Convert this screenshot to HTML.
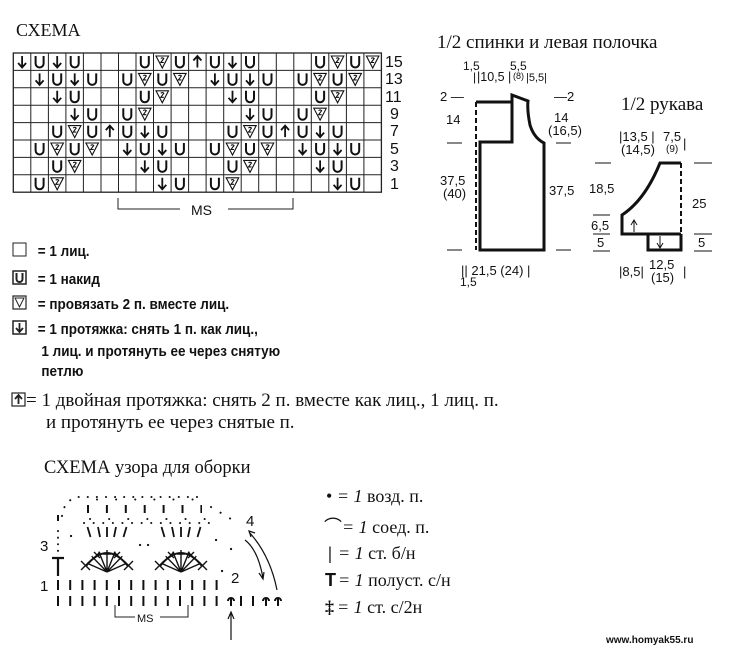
<!DOCTYPE html>
<html><head><meta charset="utf-8">
<style>
html,body{margin:0;padding:0;background:#fff;}
svg{display:block;}
.s{font-family:"Liberation Serif",serif;fill:#111;}
.a{font-family:"Liberation Sans",sans-serif;fill:#111;}
.u{fill:none;stroke:#111;stroke-width:2;}
.v{fill:none;stroke:#111;stroke-width:1.1;}
.d{fill:none;stroke:#111;stroke-width:1.8;}
</style></head>
<body>
<svg width="731" height="650" viewBox="0 0 731 650" xmlns="http://www.w3.org/2000/svg">
<rect width="731" height="650" fill="#fff"/>
<text x="16" y="36" class="s" font-size="18">СХЕМА</text>

<!-- grid -->
<g stroke="#222" stroke-width="1" fill="none">
<rect x="13.3" y="53" width="368.1" height="139.2" stroke-width="1.3"/>
<path d="M30.8,53V192.2M48.4,53V192.2M65.9,53V192.2M83.4,53V192.2M101,53V192.2M118.5,53V192.2M136,53V192.2M153.5,53V192.2M171.1,53V192.2M188.6,53V192.2M206.1,53V192.2M223.7,53V192.2M241.2,53V192.2M258.7,53V192.2M276.3,53V192.2M293.8,53V192.2M311.3,53V192.2M328.8,53V192.2M346.4,53V192.2M363.9,53V192.2"/>
<path d="M13.3,70.4H381.4M13.3,87.8H381.4M13.3,105.2H381.4M13.3,122.6H381.4M13.3,140H381.4M13.3,157.4H381.4M13.3,174.8H381.4"/>
</g>
<g transform="translate(0,53)">
<path class="d" transform="translate(13.3,0)" d="M8.8,3V14.5M4.8,10l4,4.5l4-4.5"/>
<path class="u" transform="translate(30.8,0)" d="M4.8,3v7.5a4,4 0 0 0 8,0v-7.5"/>
<path class="d" transform="translate(48.4,0)" d="M8.8,3V14.5M4.8,10l4,4.5l4-4.5"/>
<path class="u" transform="translate(65.9,0)" d="M4.8,3v7.5a4,4 0 0 0 8,0v-7.5"/>
<path class="u" transform="translate(136,0)" d="M4.8,3v7.5a4,4 0 0 0 8,0v-7.5"/>
<path class="v" transform="translate(153.5,0)" d="M2.5,3H15L8.8,15ZM7.3,5.5q1.5-1.5 3,0l-3,4h3"/>
<path class="u" transform="translate(171.1,0)" d="M4.8,3v7.5a4,4 0 0 0 8,0v-7.5"/>
<path class="d" transform="translate(188.6,0)" d="M8.8,14.5V3M4.8,7.5l4-4.5l4,4.5"/>
<path class="u" transform="translate(206.1,0)" d="M4.8,3v7.5a4,4 0 0 0 8,0v-7.5"/>
<path class="d" transform="translate(223.7,0)" d="M8.8,3V14.5M4.8,10l4,4.5l4-4.5"/>
<path class="u" transform="translate(241.2,0)" d="M4.8,3v7.5a4,4 0 0 0 8,0v-7.5"/>
<path class="u" transform="translate(311.3,0)" d="M4.8,3v7.5a4,4 0 0 0 8,0v-7.5"/>
<path class="v" transform="translate(328.8,0)" d="M2.5,3H15L8.8,15ZM7.3,5.5q1.5-1.5 3,0l-3,4h3"/>
<path class="u" transform="translate(346.4,0)" d="M4.8,3v7.5a4,4 0 0 0 8,0v-7.5"/>
<path class="v" transform="translate(363.9,0)" d="M2.5,3H15L8.8,15ZM7.3,5.5q1.5-1.5 3,0l-3,4h3"/>
</g>
<g transform="translate(0,70.4)">
<path class="d" transform="translate(30.8,0)" d="M8.8,3V14.5M4.8,10l4,4.5l4-4.5"/>
<path class="u" transform="translate(48.4,0)" d="M4.8,3v7.5a4,4 0 0 0 8,0v-7.5"/>
<path class="d" transform="translate(65.9,0)" d="M8.8,3V14.5M4.8,10l4,4.5l4-4.5"/>
<path class="u" transform="translate(83.4,0)" d="M4.8,3v7.5a4,4 0 0 0 8,0v-7.5"/>
<path class="u" transform="translate(118.5,0)" d="M4.8,3v7.5a4,4 0 0 0 8,0v-7.5"/>
<path class="v" transform="translate(136,0)" d="M2.5,3H15L8.8,15ZM7.3,5.5q1.5-1.5 3,0l-3,4h3"/>
<path class="u" transform="translate(153.5,0)" d="M4.8,3v7.5a4,4 0 0 0 8,0v-7.5"/>
<path class="v" transform="translate(171.1,0)" d="M2.5,3H15L8.8,15ZM7.3,5.5q1.5-1.5 3,0l-3,4h3"/>
<path class="d" transform="translate(206.1,0)" d="M8.8,3V14.5M4.8,10l4,4.5l4-4.5"/>
<path class="u" transform="translate(223.7,0)" d="M4.8,3v7.5a4,4 0 0 0 8,0v-7.5"/>
<path class="d" transform="translate(241.2,0)" d="M8.8,3V14.5M4.8,10l4,4.5l4-4.5"/>
<path class="u" transform="translate(258.7,0)" d="M4.8,3v7.5a4,4 0 0 0 8,0v-7.5"/>
<path class="u" transform="translate(293.8,0)" d="M4.8,3v7.5a4,4 0 0 0 8,0v-7.5"/>
<path class="v" transform="translate(311.3,0)" d="M2.5,3H15L8.8,15ZM7.3,5.5q1.5-1.5 3,0l-3,4h3"/>
<path class="u" transform="translate(328.8,0)" d="M4.8,3v7.5a4,4 0 0 0 8,0v-7.5"/>
<path class="v" transform="translate(346.4,0)" d="M2.5,3H15L8.8,15ZM7.3,5.5q1.5-1.5 3,0l-3,4h3"/>
</g>
<g transform="translate(0,87.8)">
<path class="d" transform="translate(48.4,0)" d="M8.8,3V14.5M4.8,10l4,4.5l4-4.5"/>
<path class="u" transform="translate(65.9,0)" d="M4.8,3v7.5a4,4 0 0 0 8,0v-7.5"/>
<path class="u" transform="translate(136,0)" d="M4.8,3v7.5a4,4 0 0 0 8,0v-7.5"/>
<path class="v" transform="translate(153.5,0)" d="M2.5,3H15L8.8,15ZM7.3,5.5q1.5-1.5 3,0l-3,4h3"/>
<path class="d" transform="translate(223.7,0)" d="M8.8,3V14.5M4.8,10l4,4.5l4-4.5"/>
<path class="u" transform="translate(241.2,0)" d="M4.8,3v7.5a4,4 0 0 0 8,0v-7.5"/>
<path class="u" transform="translate(311.3,0)" d="M4.8,3v7.5a4,4 0 0 0 8,0v-7.5"/>
<path class="v" transform="translate(328.8,0)" d="M2.5,3H15L8.8,15ZM7.3,5.5q1.5-1.5 3,0l-3,4h3"/>
</g>
<g transform="translate(0,105.2)">
<path class="d" transform="translate(65.9,0)" d="M8.8,3V14.5M4.8,10l4,4.5l4-4.5"/>
<path class="u" transform="translate(83.4,0)" d="M4.8,3v7.5a4,4 0 0 0 8,0v-7.5"/>
<path class="u" transform="translate(118.5,0)" d="M4.8,3v7.5a4,4 0 0 0 8,0v-7.5"/>
<path class="v" transform="translate(136,0)" d="M2.5,3H15L8.8,15ZM7.3,5.5q1.5-1.5 3,0l-3,4h3"/>
<path class="d" transform="translate(241.2,0)" d="M8.8,3V14.5M4.8,10l4,4.5l4-4.5"/>
<path class="u" transform="translate(258.7,0)" d="M4.8,3v7.5a4,4 0 0 0 8,0v-7.5"/>
<path class="u" transform="translate(293.8,0)" d="M4.8,3v7.5a4,4 0 0 0 8,0v-7.5"/>
<path class="v" transform="translate(311.3,0)" d="M2.5,3H15L8.8,15ZM7.3,5.5q1.5-1.5 3,0l-3,4h3"/>
</g>
<g transform="translate(0,122.6)">
<path class="u" transform="translate(48.4,0)" d="M4.8,3v7.5a4,4 0 0 0 8,0v-7.5"/>
<path class="v" transform="translate(65.9,0)" d="M2.5,3H15L8.8,15ZM7.3,5.5q1.5-1.5 3,0l-3,4h3"/>
<path class="u" transform="translate(83.4,0)" d="M4.8,3v7.5a4,4 0 0 0 8,0v-7.5"/>
<path class="d" transform="translate(101,0)" d="M8.8,14.5V3M4.8,7.5l4-4.5l4,4.5"/>
<path class="u" transform="translate(118.5,0)" d="M4.8,3v7.5a4,4 0 0 0 8,0v-7.5"/>
<path class="d" transform="translate(136,0)" d="M8.8,3V14.5M4.8,10l4,4.5l4-4.5"/>
<path class="u" transform="translate(153.5,0)" d="M4.8,3v7.5a4,4 0 0 0 8,0v-7.5"/>
<path class="u" transform="translate(223.7,0)" d="M4.8,3v7.5a4,4 0 0 0 8,0v-7.5"/>
<path class="v" transform="translate(241.2,0)" d="M2.5,3H15L8.8,15ZM7.3,5.5q1.5-1.5 3,0l-3,4h3"/>
<path class="u" transform="translate(258.7,0)" d="M4.8,3v7.5a4,4 0 0 0 8,0v-7.5"/>
<path class="d" transform="translate(276.3,0)" d="M8.8,14.5V3M4.8,7.5l4-4.5l4,4.5"/>
<path class="u" transform="translate(293.8,0)" d="M4.8,3v7.5a4,4 0 0 0 8,0v-7.5"/>
<path class="d" transform="translate(311.3,0)" d="M8.8,3V14.5M4.8,10l4,4.5l4-4.5"/>
<path class="u" transform="translate(328.8,0)" d="M4.8,3v7.5a4,4 0 0 0 8,0v-7.5"/>
</g>
<g transform="translate(0,140)">
<path class="u" transform="translate(30.8,0)" d="M4.8,3v7.5a4,4 0 0 0 8,0v-7.5"/>
<path class="v" transform="translate(48.4,0)" d="M2.5,3H15L8.8,15ZM7.3,5.5q1.5-1.5 3,0l-3,4h3"/>
<path class="u" transform="translate(65.9,0)" d="M4.8,3v7.5a4,4 0 0 0 8,0v-7.5"/>
<path class="v" transform="translate(83.4,0)" d="M2.5,3H15L8.8,15ZM7.3,5.5q1.5-1.5 3,0l-3,4h3"/>
<path class="d" transform="translate(118.5,0)" d="M8.8,3V14.5M4.8,10l4,4.5l4-4.5"/>
<path class="u" transform="translate(136,0)" d="M4.8,3v7.5a4,4 0 0 0 8,0v-7.5"/>
<path class="d" transform="translate(153.5,0)" d="M8.8,3V14.5M4.8,10l4,4.5l4-4.5"/>
<path class="u" transform="translate(171.1,0)" d="M4.8,3v7.5a4,4 0 0 0 8,0v-7.5"/>
<path class="u" transform="translate(206.1,0)" d="M4.8,3v7.5a4,4 0 0 0 8,0v-7.5"/>
<path class="v" transform="translate(223.7,0)" d="M2.5,3H15L8.8,15ZM7.3,5.5q1.5-1.5 3,0l-3,4h3"/>
<path class="u" transform="translate(241.2,0)" d="M4.8,3v7.5a4,4 0 0 0 8,0v-7.5"/>
<path class="v" transform="translate(258.7,0)" d="M2.5,3H15L8.8,15ZM7.3,5.5q1.5-1.5 3,0l-3,4h3"/>
<path class="d" transform="translate(293.8,0)" d="M8.8,3V14.5M4.8,10l4,4.5l4-4.5"/>
<path class="u" transform="translate(311.3,0)" d="M4.8,3v7.5a4,4 0 0 0 8,0v-7.5"/>
<path class="d" transform="translate(328.8,0)" d="M8.8,3V14.5M4.8,10l4,4.5l4-4.5"/>
<path class="u" transform="translate(346.4,0)" d="M4.8,3v7.5a4,4 0 0 0 8,0v-7.5"/>
</g>
<g transform="translate(0,157.4)">
<path class="u" transform="translate(48.4,0)" d="M4.8,3v7.5a4,4 0 0 0 8,0v-7.5"/>
<path class="v" transform="translate(65.9,0)" d="M2.5,3H15L8.8,15ZM7.3,5.5q1.5-1.5 3,0l-3,4h3"/>
<path class="d" transform="translate(136,0)" d="M8.8,3V14.5M4.8,10l4,4.5l4-4.5"/>
<path class="u" transform="translate(153.5,0)" d="M4.8,3v7.5a4,4 0 0 0 8,0v-7.5"/>
<path class="u" transform="translate(223.7,0)" d="M4.8,3v7.5a4,4 0 0 0 8,0v-7.5"/>
<path class="v" transform="translate(241.2,0)" d="M2.5,3H15L8.8,15ZM7.3,5.5q1.5-1.5 3,0l-3,4h3"/>
<path class="d" transform="translate(311.3,0)" d="M8.8,3V14.5M4.8,10l4,4.5l4-4.5"/>
<path class="u" transform="translate(328.8,0)" d="M4.8,3v7.5a4,4 0 0 0 8,0v-7.5"/>
</g>
<g transform="translate(0,174.8)">
<path class="u" transform="translate(30.8,0)" d="M4.8,3v7.5a4,4 0 0 0 8,0v-7.5"/>
<path class="v" transform="translate(48.4,0)" d="M2.5,3H15L8.8,15ZM7.3,5.5q1.5-1.5 3,0l-3,4h3"/>
<path class="d" transform="translate(153.5,0)" d="M8.8,3V14.5M4.8,10l4,4.5l4-4.5"/>
<path class="u" transform="translate(171.1,0)" d="M4.8,3v7.5a4,4 0 0 0 8,0v-7.5"/>
<path class="u" transform="translate(206.1,0)" d="M4.8,3v7.5a4,4 0 0 0 8,0v-7.5"/>
<path class="v" transform="translate(223.7,0)" d="M2.5,3H15L8.8,15ZM7.3,5.5q1.5-1.5 3,0l-3,4h3"/>
<path class="d" transform="translate(328.8,0)" d="M8.8,3V14.5M4.8,10l4,4.5l4-4.5"/>
<path class="u" transform="translate(346.4,0)" d="M4.8,3v7.5a4,4 0 0 0 8,0v-7.5"/>
</g>

<g class="a" font-size="16">
<text x="385" y="67">15</text><text x="385" y="84">13</text><text x="385" y="102">11</text>
<text x="390" y="119">9</text><text x="390" y="136">7</text><text x="390" y="154">5</text>
<text x="390" y="171">3</text><text x="390" y="189">1</text>
</g>
<path d="M118,198 V209 H180 M228,209 H293 V198" stroke="#222" stroke-width="1" fill="none"/>
<text x="191" y="215" class="a" font-size="14">MS</text>

<!-- legend -->
<g stroke="#222" fill="none">
<rect x="13" y="243" width="13" height="13" stroke-width="1"/>
<rect x="13" y="271" width="13" height="13" stroke-width="1.5"/>
<path d="M16.5,273 v6 a3,3 0 0 0 6,0 v-6" stroke-width="2"/>
<rect x="13" y="296" width="13" height="13" stroke-width="1.2"/>
<path d="M15,298 L24,298 L19.5,307 Z" stroke-width="1"/>
<rect x="13" y="321" width="13" height="13" stroke-width="1.5"/>
<path d="M19.5,323 v9 M16,328 l3.5,4 l3.5,-4" stroke-width="1.8"/>
<rect x="12" y="393" width="13" height="13" stroke-width="1.2"/>
<path d="M18.5,404 v-9 M15,399 l3.5,-4 l3.5,4" stroke-width="1.8"/>
</g>
<g class="a" font-size="15" font-weight="bold">
<text x="38" y="256" transform="scale(0.9,1) translate(4,0)">= 1 лиц.</text>
<text x="38" y="284" transform="scale(0.9,1) translate(4,0)">= 1 накид</text>
<text x="38" y="309" transform="scale(0.9,1) translate(4,0)">= провязать 2 п. вместе лиц.</text>
<text x="38" y="334" transform="scale(0.9,1) translate(4,0)">= 1 протяжка: снять 1 п. как лиц.,</text>
<text x="42" y="356" transform="scale(0.9,1) translate(4,0)">1 лиц. и протянуть ее через снятую</text>
<text x="42" y="376" transform="scale(0.9,1) translate(4,0)">петлю</text>
</g>
<g class="s" font-size="19">
<text x="26" y="406">= 1 двойная протяжка: снять 2 п. вместе как лиц., 1 лиц. п.</text>
<text x="46" y="428">и протянуть ее через снятые п.</text>
<text x="44" y="473" font-size="18.5">СХЕМА узора для оборки</text>
</g>

<!-- bodice -->
<text x="437" y="48" class="s" font-size="19">1/2 спинки и левая полочка</text>
<g class="a" font-size="12">
<text x="463" y="70">1,5</text><text x="473" y="81">|</text><text x="477" y="81" font-size="12.5">|10,5 |</text>
<text x="510" y="70">5,5</text><text x="513" y="79" font-size="9">(8)</text><text x="526" y="81" font-size="11">|5,5|</text>
</g>
<g class="a" font-size="13">
<text x="440" y="101">2 —</text><text x="554" y="101">—2</text>
<text x="446" y="124">14</text><text x="554" y="122">14</text><text x="548" y="135">(16,5)</text>
<text x="440" y="185">37,5</text><text x="443" y="198">(40)</text><text x="549" y="195">37,5</text>
<text x="461" y="275">|| 21,5 (24) |</text><text x="460" y="286" font-size="12">1,5</text>
</g>
<g stroke="#111" fill="none">
<path d="M447,143 H462 M556,143 H571 M447,250 H462 M556,250 H571" stroke-width="1"/>
<path d="M476,102 V250" stroke-width="2" stroke-dasharray="5,3"/>
<path d="M476,102 H512 V142 H480 V250 H544 V143 Q534,138 530,125 Q527,110 528,101 L512,95 V102" stroke-width="3"/>
</g>

<!-- sleeve -->
<text x="621" y="110" class="s" font-size="19">1/2 рукава</text>
<g class="a" font-size="13">
<text x="619" y="141">|13,5 |</text><text x="621" y="154">(14,5)</text>
<text x="663" y="141">7,5</text><text x="666" y="152" font-size="10">(9)</text><text x="683" y="148">|</text>
<text x="589" y="193">18,5</text><text x="692" y="208">25</text>
<text x="591" y="230">6,5</text><text x="597" y="247">5</text><text x="698" y="247">5</text>
<text x="619" y="276">|8,5|</text><text x="649" y="269">12,5</text><text x="651" y="282">(15)</text><text x="683" y="276">|</text>
</g>
<g stroke="#111" fill="none">
<path d="M595,163 H611 M694,163 H712 M593,215 H610 M593,234 H610 M694,234 H712 M593,251 H610 M694,251 H712" stroke-width="1"/>
<path d="M681,163 V250" stroke-width="2" stroke-dasharray="5,3"/>
<path d="M681,163 H660 Q645,200 622,215 V234 H681 M648,234 V250 H681 V234" stroke-width="3"/>
<path d="M634,232 V220 M631,225 l3,-5 l3,5 M660,236 V248 M657,243 l3,5 l3,-5" stroke-width="1"/>
</g>

<!-- crochet chart -->
<g stroke="#111" fill="none">
<line x1="57" y1="601" x2="222" y2="601" stroke-width="10" stroke-dasharray="2,10.2"/>
<line x1="57" y1="585" x2="222" y2="585" stroke-width="10" stroke-dasharray="2,10.2"/>
<line x1="240" y1="601" x2="260" y2="601" stroke-width="10" stroke-dasharray="2,10"/>
<path d="M231,606V599M228,601a3,3 0 0 1 6,0M266,606V599M263,601a3,3 0 0 1 6,0M278,606V599M275,601a3,3 0 0 1 6,0" stroke-width="2"/>
<line x1="87" y1="509" x2="202" y2="509" stroke-width="8" stroke-dasharray="2,16.9"/>
<path d="M58,515V521" stroke-width="2"/>
<path d="M62,516 Q64,500 78,497 H205" stroke-width="2" stroke-dasharray="0.1,9" stroke-linecap="round"/>
<path d="M97,499.5 H200" stroke-width="2" stroke-dasharray="0.1,19" stroke-linecap="round"/>
<path d="M84,523 H212" stroke-width="2" stroke-dasharray="0.1,9.5" stroke-linecap="round"/>
<path d="M90,519 H205" stroke-width="2" stroke-dasharray="0.1,19" stroke-linecap="round"/>
<path d="M211,507 L236,522" stroke-width="2" stroke-dasharray="0.1,11" stroke-linecap="round"/>
<path d="M58,531 V551" stroke-width="2" stroke-dasharray="0.1,6.5" stroke-linecap="round"/>
<path d="M71,536 h0.1 M216,540 h0.1 M231,549 h0.1 M222,571 h0.1 M140,545 h0.1 M148,545 h0.1" stroke-width="2.2" stroke-linecap="round"/>
<path d="M52,558 H64 M58,558 V576" stroke-width="2.2"/>
<g transform="translate(107,572)" stroke-width="1.4">
<path d="M0,0L-20.1,-8.9M0,0L-15.3,-15.8M0,0L-8.2,-20.4M0,0L0,-22M0,0L8.2,-20.4M0,0L15.3,-15.8M0,0L20.1,-8.9M-4,-18H4"/>
<path d="M-21,-6Q0,-32 21,-6" stroke-width="2"/>
<path d="M-26,-11l9,9M-17,-11l-9,9M17,-11l9,9M26,-11l-9,9M-13,-20l6,6M-7,-20l-6,6M13,-20l-6,6M7,-20l6,6"/>
<path d="M-19.5,-45l3,10M-9,-45l2,10M0,-45v10M9,-45l-2,10M19.5,-45l-3,10" stroke-width="1.8"/>
</g>
<g transform="translate(181,572)" stroke-width="1.4">
<path d="M0,0L-20.1,-8.9M0,0L-15.3,-15.8M0,0L-8.2,-20.4M0,0L0,-22M0,0L8.2,-20.4M0,0L15.3,-15.8M0,0L20.1,-8.9M-4,-18H4"/>
<path d="M-21,-6Q0,-32 21,-6" stroke-width="2"/>
<path d="M-26,-11l9,9M-17,-11l-9,9M17,-11l9,9M26,-11l-9,9M-13,-20l6,6M-7,-20l-6,6M13,-20l-6,6M7,-20l6,6"/>
<path d="M-19.5,-45l3,10M-9,-45l2,10M0,-45v10M9,-45l-2,10M19.5,-45l-3,10" stroke-width="1.8"/>
</g>
</g>
<g class="a" font-size="15">
<text x="40" y="551">3</text><text x="40" y="591">1</text><text x="231" y="583">2</text><text x="246" y="526">4</text>
</g>
<path d="M115,605 V617 H135 M160,617 H188 V605" stroke="#222" fill="none"/>
<text x="137" y="622" class="a" font-size="11">MS</text>
<g stroke="#111" fill="none" stroke-width="1.2">
<path d="M231,640 V612 M228,619 l3,-7 l3,7"/>
<path d="M245,540 Q258,550 263,578 M259,573 l4,6 l1,-7"/>
<path d="M277,590 Q270,555 249,532 M255,533 l-6,-2 l2,6"/>
</g>
<g class="s" font-size="18">
<text x="326" y="502">• <tspan font-style="italic">= 1</tspan> возд. п.</text>
<text x="324" y="533">⌒<tspan font-style="italic">= 1</tspan>  соед. п.</text>
<text x="328" y="559" font-weight="bold">|</text><text x="338" y="559"><tspan font-style="italic">= 1</tspan> ст. б/н</text>
<text x="325" y="586" font-family="Liberation Sans" font-weight="bold">T</text><text x="338" y="586"><tspan font-style="italic">= 1</tspan> полуст. с/н</text>
<text x="325" y="613" font-weight="bold">‡</text><text x="337" y="613"><tspan font-style="italic">= 1</tspan>  ст. с/2н</text>
</g>
<text x="606" y="643" class="a" font-size="10" font-weight="bold" fill="#333">www.homyak55.ru</text>
</svg>
</body></html>
